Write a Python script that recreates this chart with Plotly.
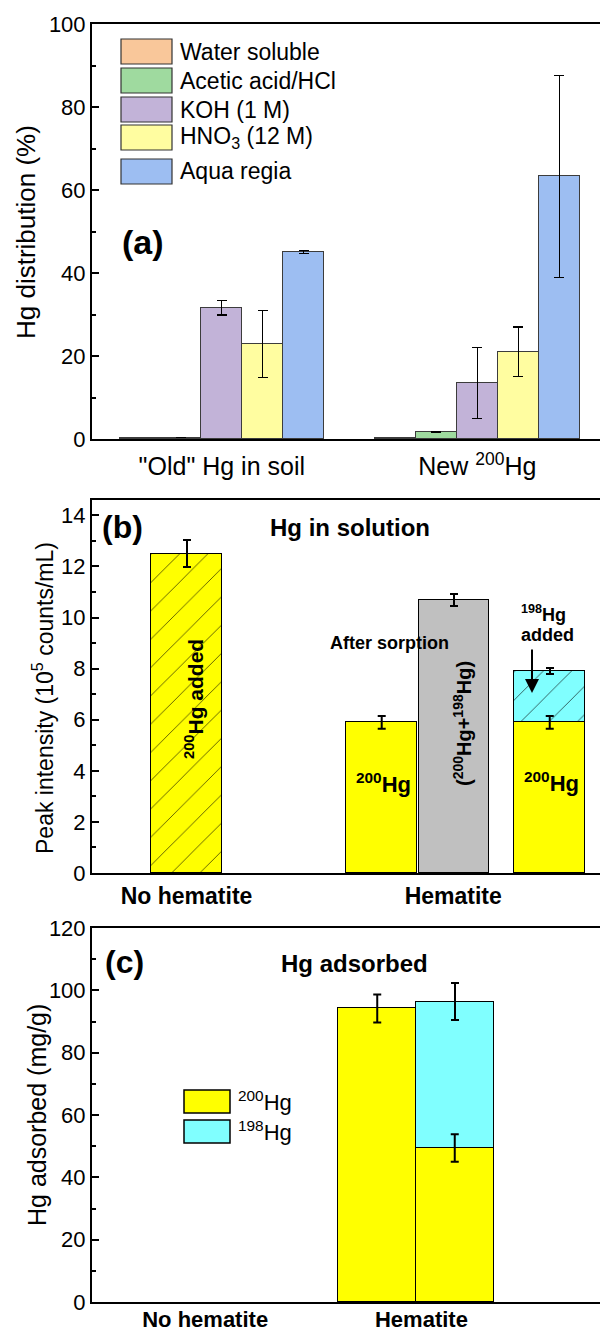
import plotly.graph_objects as go

# ---------------- data ----------------
# Panel (a): Hg distribution (%) by extraction step
groups_a = ['"Old" Hg in soil', 'New <sup>200</sup>Hg']
fractions = ["Water soluble", "Acetic acid/HCl", "KOH (1 M)",
             "HNO<sub>3</sub> (12 M)", "Aqua regia"]
old_vals = [0.3, 0.3, 31.6, 22.9, 45.1]
old_err = [None, None, 1.7, 8.1, 0.4]
new_vals = [0.3, 1.7, 13.5, 21.0, 63.3]
new_err = [None, 0.1, 8.5, 6.0, 24.3]

# Panel (b): peak intensity (10^5 counts/mL)
b_labels = ["No hematite", "Hematite"]
b_no_hematite = [12.5]
b_no_hematite_err = [0.53]
b_200_after = [5.9, 5.9]          # after sorption, and under the 198Hg addition
b_200_after_err = [0.25, 0.25]
b_total_after = [10.7]             # (200Hg + 198Hg)
b_total_after_err = [0.23]
b_198_added = [2.0]                # stacked on top of 200Hg (top at 7.9)
b_198_added_err = [0.12]

# Panel (c): Hg adsorbed (mg/g)
c_labels = ["No hematite", "Hematite"]
c_200 = [94.2, 49.4]
c_200_err = [4.5, 4.4]
c_198 = [47.0]                     # stacked on 200Hg (top at 96.4)
c_198_err = [5.9]

# ---------------- layout helpers ----------------
W, H = 600, 1336
FONT = "Liberation Sans, Arial, Helvetica, sans-serif"


def pxx(x):
    return x / W


def pxy(y):
    return 1 - y / H


colors_a = ["#F9C79A", "#9FDA9F", "#C2B3D8", "#FFFDA0", "#9DBEF2"]
YELLOW = "#FFFF00"
CYAN = "#80FFFF"
GRAY = "#C0C0C0"

# positions (layout, not data)
offsets_a = [-0.32, -0.16, 0.0, 0.16, 0.32]
group_pos_a = [0, 1]
pos_b_nohem = [0]
pos_b_200 = [2.73, 5.08]
pos_b_total = [3.74]
pos_b_198 = [5.08]
tick_b = [0, 3.73]
pos_c_200 = [-0.5, 0.5]
pos_c_198 = [0.5]
tick_c = [-2.72, 0.07]

fig = go.Figure()


def err_overlay(x, y, errs, axis_x, axis_y, thickness=2, width=4):
    """Error bars drawn above all bars (so stacked segments do not hide them)."""
    fig.add_trace(go.Scatter(
        x=x, y=y, mode="markers", marker=dict(size=1, opacity=0),
        error_y=dict(type="data", array=errs, color="black", thickness=thickness, width=width),
        xaxis=axis_x, yaxis=axis_y, showlegend=False, hoverinfo="skip",
    ))


# ---------- panel (a) ----------
for i, name in enumerate(fractions):
    errs = [old_err[i], new_err[i]]
    fig.add_trace(go.Bar(
        x=[g + offsets_a[i] for g in group_pos_a],
        y=[old_vals[i], new_vals[i]],
        width=0.16, name=name,
        marker=dict(color=colors_a[i], line=dict(color="#3c3c3c", width=1)),
        error_y=dict(type="data", array=errs, color="black", thickness=1.2, width=5,
                     visible=any(e is not None for e in errs)),
        xaxis="x", yaxis="y", showlegend=False,
    ))

# ---------- panel (b) ----------
PAT = dict(shape="/", fgcolor="black", size=20, solidity=0.03, fillmode="replace")
fig.add_trace(go.Bar(
    x=pos_b_nohem, y=b_no_hematite, width=1.0,
    marker=dict(color=YELLOW, line=dict(color="black", width=1.5),
                pattern=dict(PAT, bgcolor=YELLOW)),
    error_y=dict(type="data", array=b_no_hematite_err, color="black", thickness=2, width=4),
    xaxis="x2", yaxis="y2", showlegend=False,
))
fig.add_trace(go.Bar(
    x=pos_b_200, y=b_200_after, width=0.99,
    marker=dict(color=YELLOW, line=dict(color="black", width=1.5)),
    xaxis="x2", yaxis="y2", showlegend=False,
))
fig.add_trace(go.Bar(
    x=pos_b_total, y=b_total_after, width=0.99,
    marker=dict(color=GRAY, line=dict(color="black", width=1.5)),
    error_y=dict(type="data", array=b_total_after_err, color="black", thickness=2, width=4),
    xaxis="x2", yaxis="y2", showlegend=False,
))
fig.add_trace(go.Bar(
    x=pos_b_198, y=b_198_added, width=0.99,
    marker=dict(color=CYAN, line=dict(color="black", width=1.5),
                pattern=dict(PAT, bgcolor=CYAN)),
    error_y=dict(type="data", array=b_198_added_err, color="black", thickness=2, width=4),
    xaxis="x2", yaxis="y2", showlegend=False,
))
err_overlay(pos_b_200, b_200_after, b_200_after_err, "x2", "y2")

# ---------- panel (c) ----------
fig.add_trace(go.Bar(
    x=pos_c_200, y=c_200, width=1.0,
    marker=dict(color=YELLOW, line=dict(color="black", width=1.5)),
    xaxis="x3", yaxis="y3", showlegend=False,
))
fig.add_trace(go.Bar(
    x=pos_c_198, y=c_198, width=1.0,
    marker=dict(color=CYAN, line=dict(color="black", width=1.5)),
    error_y=dict(type="data", array=c_198_err, color="black", thickness=2, width=4),
    xaxis="x3", yaxis="y3", showlegend=False,
))
err_overlay(pos_c_200, c_200, c_200_err, "x3", "y3")

# ---------- axes ----------
xdom = [pxx(92), 1.0]
common_x = dict(showline=True, mirror=True, linecolor="black", linewidth=2,
                showgrid=False, zeroline=False, ticks="", domain=xdom, automargin=False,
                tickfont=dict(family=FONT, size=25, color="black"))
common_y = dict(showline=True, mirror=False, linecolor="black", linewidth=2,
                showgrid=False, zeroline=False, ticks="inside", ticklen=7, automargin=False,
                tickwidth=1.5, tickcolor="black",
                tickfont=dict(family=FONT, size=22, color="black"))

fig.update_layout(
    xaxis=dict(common_x, range=[-0.508, 1.48], tickmode="array",
               tickvals=group_pos_a, ticktext=groups_a, anchor="y",
               ticklabelstandoff=4),
    yaxis=dict(common_y, range=[0, 100], dtick=20, anchor="x",
               domain=[pxy(439), pxy(24)],
               minor=dict(ticks="inside", ticklen=4, dtick=10, tickcolor="black", tickwidth=1.5)),
    xaxis2=dict(common_x, range=[-1.322, 5.783], tickmode="array",
                tickfont=dict(family=FONT, size=23, color="black"),
                tickvals=tick_b, ticktext=["<b>" + t + "</b>" for t in b_labels], anchor="y2",
                ticklabelstandoff=1),
    yaxis2=dict(common_y, range=[0, 14.6], dtick=2, anchor="x2",
                domain=[pxy(873), pxy(500)],
                minor=dict(ticks="inside", ticklen=4, dtick=1, tickcolor="black", tickwidth=1.5)),
    xaxis3=dict(common_x, range=[-4.18, 2.374], tickmode="array",
                tickfont=dict(family=FONT, size=22, color="black"),
                tickvals=tick_c, ticktext=["<b>" + t + "</b>" for t in c_labels], anchor="y3",
                ticklabelstandoff=-3),
    yaxis3=dict(common_y, range=[0, 120], dtick=20, anchor="x3",
                domain=[pxy(1302), pxy(928)],
                minor=dict(ticks="inside", ticklen=4, dtick=10, tickcolor="black", tickwidth=1.5)),
)

fig.update_layout(
    width=W, height=H, margin=dict(l=0, r=0, t=0, b=0, pad=0),
    paper_bgcolor="white", plot_bgcolor="white",
    barmode="stack", bargap=0, showlegend=False,
    font=dict(family=FONT, size=20, color="black"),
)

annotations = []
shapes = []


def text(x, y, s, size, bold=False, angle=0, xanchor="center"):
    annotations.append(dict(
        x=pxx(x), y=pxy(y), xref="paper", yref="paper", showarrow=False,
        text=("<b>" + s + "</b>") if bold else s, textangle=angle,
        xanchor=xanchor, yanchor="middle",
        font=dict(family=FONT, size=size, color="black")))


def box(x0, y0, x1, y1, color, lc="#333333", lw=1.2):
    shapes.append(dict(type="rect", xref="paper", yref="paper",
                       x0=pxx(x0), x1=pxx(x1), y0=pxy(y1), y1=pxy(y0),
                       fillcolor=color, line=dict(color=lc, width=lw)))


# axis titles
text(26, 232, "Hg distribution (%)", 26, angle=-90)
text(43, 698, "Peak intensity (10<sup>5</sup> counts/mL)", 23, angle=-90)
text(37, 1115, "Hg adsorbed (mg/g)", 25, angle=-90)

# panel (a) legend
legend_y = [(39, 64), (68, 93), (97, 122), (125, 150), (159, 184)]
for i, name in enumerate(fractions):
    y0, y1 = legend_y[i]
    box(121, y0, 172, y1, colors_a[i])
    text(178, (y0 + y1) / 2, name, 23, xanchor="left")
text(143, 242, "(a)", 34, bold=True)

# panel (b) labels
text(123, 527, "(b)", 32, bold=True)
text(350, 527, "Hg in solution", 24, bold=True)
text(194, 699, "<sup>200</sup>Hg added", 21, bold=True, angle=-90)
text(383, 783, "<sup>200</sup>Hg", 22, bold=True)
text(462, 724, "(<sup>200</sup>Hg+<sup>198</sup>Hg)", 20, bold=True, angle=-90)
text(389, 643, "After sorption", 18, bold=True)
text(543, 613, "<sup>198</sup>Hg", 18, bold=True)
text(547, 635, "added", 18, bold=True)
text(551, 782, "<sup>200</sup>Hg", 22, bold=True)
annotations.append(dict(
    x=pxx(532), y=pxy(693), xref="paper", yref="paper", showarrow=True,
    ax=0, ay=-45, arrowhead=2, arrowsize=1.4, arrowwidth=2, arrowcolor="black",
    text=""))

# panel (c) labels
text(124, 962, "(c)", 32, bold=True)
text(354, 963, "Hg adsorbed", 24, bold=True)
box(184, 1090, 230, 1113, YELLOW, lc="black", lw=1.5)
box(184, 1120, 230, 1143, CYAN, lc="black", lw=1.5)
text(236, 1101, "<sup>200</sup>Hg", 22, xanchor="left")
text(236, 1131, "<sup>198</sup>Hg", 22, xanchor="left")

fig.update_layout(annotations=annotations, shapes=shapes)

fig.write_html("out.html")
